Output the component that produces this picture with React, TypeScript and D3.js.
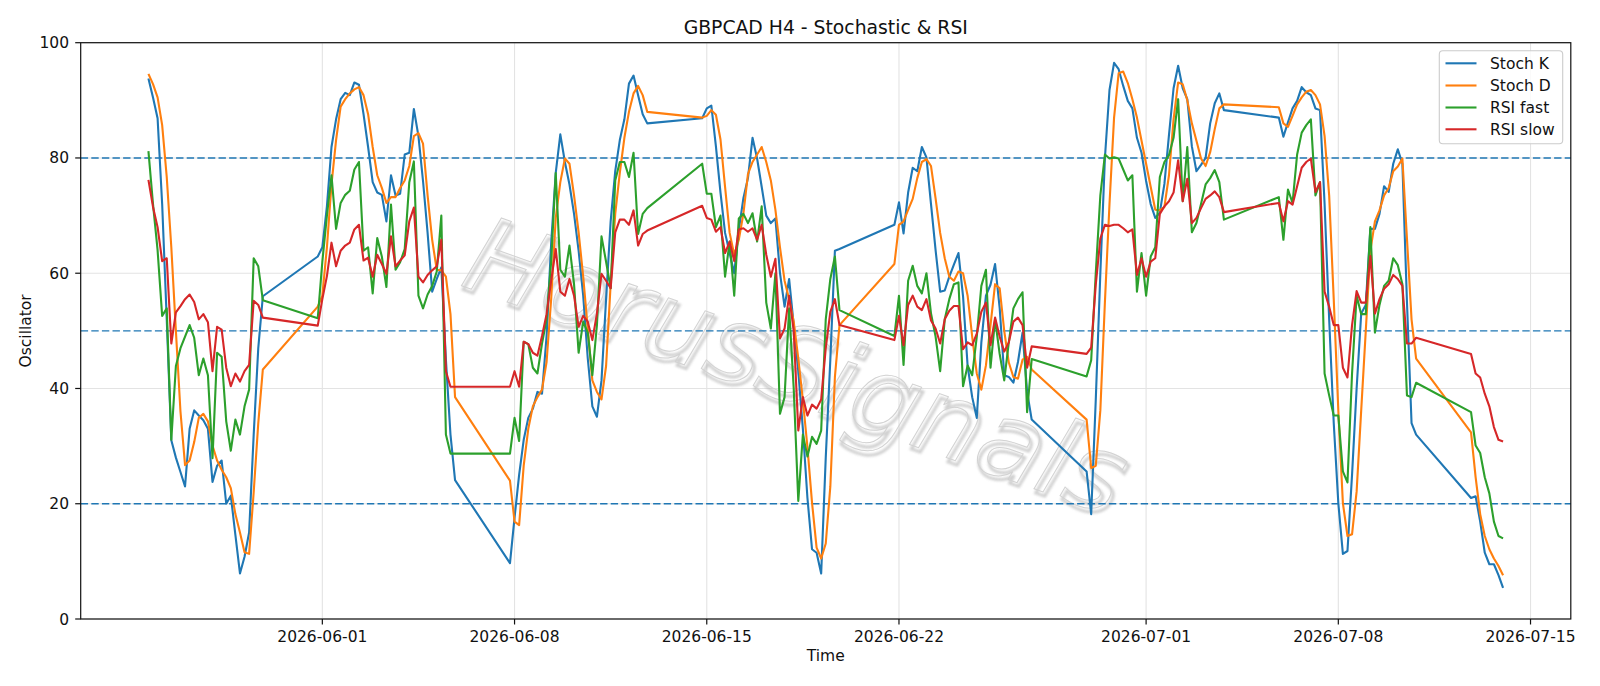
import React from "react";
import * as d3 from "d3";

// H4 sessions (UTC): each one runs Sunday 20:00 -> Friday 20:00, gaps are weekends
const sessionStarts = [
  "2026-05-25T16:00:00Z",
  "2026-05-31T20:00:00Z",
  "2026-06-07T20:00:00Z",
  "2026-06-14T20:00:00Z",
  "2026-06-21T20:00:00Z",
  "2026-06-28T20:00:00Z",
  "2026-07-05T20:00:00Z",
  "2026-07-12T20:00:00Z",
];
const sessionBars = [26, 31, 31, 31, 31, 31, 31, 8];

const stochK = [
  93.8, 90.5, 86.9, 72, 52, 31, 28, 25.5, 23, 33, 36.2, 35.3, 34.5, 33, 23.8, 26.6, 27.5, 20, 21.4, 14.6, 7.9, 10.8, 15, 32, 47, 56,
  62.9, 64.5, 71.6, 81.9, 86.7, 90.2, 91.3, 90.9, 93.1, 92.7, 87.6, 81.9, 75.8, 74.0, 73.6, 69.0, 77.0, 73.5, 73.8, 80.6, 80.9, 88.5, 83.8, 76, 67, 56.8, 59.0, 61, 45, 32, 24.1,
  9.7, 17.6, 25.0, 31.1, 34.9, 36.5, 39.4, 39.1, 49.1, 65.2, 77.4, 84.1, 79.3, 75.4, 70.3, 63.9, 56.1, 45.2, 36.9, 35.1, 41.4, 55.5, 69.0, 77.7, 83.1, 86.7, 92.9, 94.3, 90.9, 87.6, 86.0,
  86.9, 88.6, 89.1, 82, 74, 67, 63.5, 60.0, 67.5, 73, 76.5, 83.5, 79.9, 75, 70, 68.7, 69.5, 60, 54.2, 59.0, 51, 43, 33, 21, 12.1, 11.5, 7.9, 28, 45, 63.9, 64.2,
  68.4, 72.3, 66.9, 74, 78.3, 77.7, 81.9, 80.1, 72, 64, 56.8, 57.0, 59.4, 61.5, 63.5, 56, 43.9, 38.5, 34.9, 48, 56.1, 58, 61.6, 54, 42.3, 42.0, 41.0, 44.6, 49.7, 39.4, 34.6,
  25.6, 18.2, 38, 60, 80, 91.8, 96.5, 95.4, 92.5, 89.9, 88.6, 83.5, 80.9, 76, 72, 69.6, 70.5, 75.5, 84, 92.1, 96.0, 92.1, 90.2, 82, 77.7, 78.8, 80, 86, 89.5, 91.2, 88.3,
  87.0, 83.7, 86.2, 88.6, 89.9, 92.3, 91.4, 90.9, 88.6, 88.3, 72, 52, 34, 20.1, 11.3, 11.8, 25, 40, 53, 54.5, 67.7, 67.7, 70.3, 75.1, 74.1, 79.0, 81.5, 79, 55, 34, 32.0,
  21.0, 21.3, 16.9, 11.5, 9.5, 9.5, 7.6, 5.4,
];

const stochD = [
  94.6, 92.8, 90.5, 85.7, 76.7, 64.5, 50, 36, 26.7, 27.5, 30.7, 34.9, 35.6, 34.3, 30.1, 27.5, 25.9, 24.6, 22.7, 18.2, 15.0, 11.6, 11.3, 22, 34, 43.3,
  54.2, 56.1, 64.5, 75.4, 83.1, 88.9, 90.2, 91.2, 91.9, 92.3, 90.9, 87.6, 81.9, 77.0, 74.8, 72.2, 73.2, 73.2, 74.8, 76.1, 78.6, 83.8, 84.3, 82.5, 73.5, 65.8, 60.6, 60.5, 59.4, 52.9, 38.5,
  24.0, 16.9, 16.3, 26.6, 33.0, 36.9, 38.5, 39.8, 44.6, 55.5, 69.6, 75.8, 79.9, 79.0, 73.5, 67.1, 59.4, 50.4, 41.4, 39.4, 38.1, 43.9, 58.1, 70.3, 77.4, 83.5, 88.0, 91.2, 92.5, 90.9, 88.0,
  87.0, 87.3, 88.3, 87.5, 83.2, 75, 67, 63.2, 65.8, 70.3, 77.2, 79.3, 80.6, 81.9, 79.3, 76.1, 71, 64.5, 58.7, 55.5, 51.6, 45.2, 38, 29.8, 20.2, 12.4, 10.5, 13.1, 23, 42, 51,
  61.6, 68.4, 69.0, 71, 72.9, 76.5, 79.3, 79.8, 78.6, 73, 67, 62.6, 59.4, 58.7, 60.3, 60, 56.1, 49, 42.6, 39.8, 44, 51, 58.1, 57.4, 50, 44.5, 42.0, 41.7, 45, 45.5, 43.3,
  34.6, 26.2, 26.6, 36.2, 55, 72, 87, 94.7, 95.0, 93, 90.2, 87, 83, 79, 75, 71, 70.9, 71.5, 77, 86.7, 93.1, 92.8, 90, 86, 83, 79.9, 78.6, 81, 85, 88.6, 89.3,
  88.8, 86.0, 85.4, 87.3, 89.3, 90.5, 91.5, 91.8, 90.9, 89.3, 83.8, 73.5, 55.5, 36.2, 20.1, 14.4, 14.7, 22.1, 36.2, 50, 63.9, 69.0, 70.9, 73.5, 74.8, 77.7, 78.5, 79.9, 66, 52, 45.2,
  32.4, 24.6, 18.2, 14.4, 12.1, 10.5, 9.2, 7.6,
];

const rsiFast = [
  81.2, 72, 64, 52.6, 53.9, 31.1, 43.9, 47, 49, 51, 48.8, 42.3, 45.2, 42.3, 27.9, 46.2, 45.5, 34.3, 29.2, 34.6, 32.0, 36.9, 39.8, 62.6, 61.2, 55.3,
  52.2, 62, 70, 77.0, 67.7, 72.2, 73.6, 74.3, 78.0, 79.3, 63.9, 64.5, 56.5, 66.1, 62.9, 57.6, 71.9, 60.6, 61.9, 64.2, 75.8, 79.4, 56.1, 53.9, 56.3, 57.8, 60.3, 70.0, 32.0, 28.7, 28.7,
  28.7, 34.9, 30.9, 48.1, 47.7, 43.6, 42.6, 47.8, 52, 62, 77.4, 60.6, 59.4, 64.8, 58.1, 46.2, 51.6, 49.7, 42.3, 51, 66.4, 62, 57.4, 76.1, 79.3, 79.3, 76.7, 80.9, 66.8, 70.3, 71.3,
  79.0, 73.8, 73.8, 68, 70.0, 59.4, 65.5, 56.1, 69.5, 70.3, 68.7, 70.4, 65.5, 71.6, 54.9, 50.4, 60, 35.6, 38.5, 53.9, 40, 20.5, 32, 28.2, 31.6, 30.4, 32.7, 52, 59.0, 62.9, 53.6,
  49.1, 56.1, 44.1, 58.7, 61.3, 57.8, 56.5, 60.0, 53, 49, 43.0, 52, 55.5, 58.1, 58.4, 40.4, 44.0, 42.3, 49, 57.8, 60.6, 43.6, 52, 46, 41.4, 48, 53.9, 55.5, 56.7, 35.9, 45.1,
  42.1, 44.9, 60, 73.5, 80.6, 79.9, 80.1, 79.9, 78, 76.1, 77.0, 56.8, 63.5, 56.1, 62.9, 64.5, 76.7, 79.3, 80.5, 83.5, 90.2, 72.5, 81.9, 67.1, 68.7, 72, 75.4, 76.5, 77.9, 75.8, 69.3,
  73.2, 65.8, 74.5, 72.2, 80.6, 84.4, 85.7, 86.7, 73.5, 75.8, 42.6, 38.8, 35.3, 35.3, 25.6, 23.7, 42.6, 56.1, 52.9, 52.9, 68.0, 49.7, 54.5, 57.8, 58.7, 62.6, 61.4, 58.1, 38.8, 38.5, 41.0,
  35.9, 30.1, 28.8, 24.6, 21.8, 16.9, 14.4, 14.0,
];

const rsiSlow = [
  76.2, 71.5, 68, 62.1, 62.6, 47.8, 53.2, 54.3, 55.5, 56.3, 55.0, 52.0, 52.9, 51.5, 43.0, 50.7, 50.2, 43.6, 40.4, 42.6, 41.2, 43.0, 44.1, 55.2, 54.5, 52.3,
  50.9, 55.5, 59.5, 65.3, 61.2, 63.9, 64.8, 65.3, 67.6, 68.4, 62.2, 62.7, 59.4, 63.2, 61.6, 59.9, 66.4, 61.2, 62.2, 63.1, 69.0, 71.4, 59.4, 58.4, 59.7, 60.5, 61.2, 65.8, 43.0, 40.3, 40.3,
  40.3, 43.0, 40.3, 48.1, 47.7, 46.2, 45.7, 49.1, 52.9, 58.7, 64.2, 56.8, 56.1, 59.0, 56.1, 50.7, 52.6, 51.6, 48.4, 53, 59.9, 58.7, 57.4, 67.1, 69.3, 69.3, 68.4, 70.9, 64.8, 66.8, 67.4,
  71.7, 69.6, 69.3, 67.2, 68.0, 63.5, 65.5, 62.1, 67.6, 67.8, 67.2, 67.8, 65.8, 68.4, 63.2, 59.4, 62.5, 48.7, 50.4, 56.1, 50, 32.7, 38.5, 35.3, 37.2, 36.5, 38.1, 47, 53.3, 55.5, 51.0,
  48.4, 52.6, 47.5, 54.5, 56.1, 54.2, 53.6, 55.5, 51.8, 50.4, 47.8, 52, 53.5, 54.3, 54.3, 46.8, 48, 47.5, 49.5, 53.3, 54.9, 47.5, 52.3, 49, 46.4, 48, 51.6, 52.3, 51.0, 43.6, 47.3,
  46.0, 47.1, 58, 66, 68.4, 68.2, 68.4, 68.4, 67.8, 67.1, 67.6, 59.7, 62.6, 59.4, 62.0, 62.6, 70.3, 71.6, 72.5, 74, 79.6, 72.5, 76.4, 68.7, 69.6, 71.3, 72.9, 73.5, 74.2, 73.2, 70.6,
  72.2, 69.0, 72.5, 71.9, 75.1, 78.3, 79.3, 79.9, 74.1, 75.8, 56.8, 54.2, 51.0, 51.0, 43.6, 41.9, 51.0, 56.9, 54.9, 54.9, 63.0, 53.0, 55.5, 57.3, 58.1, 59.7, 59.0, 57.8, 47.8, 47.8, 48.8,
  46.0, 42.6, 41.9, 39.1, 36.9, 33.3, 31.1, 30.8,
];

const seriesNames = ["Stoch K", "Stoch D", "RSI fast", "RSI slow"];
const seriesColors = ["#1f77b4", "#ff7f0e", "#2ca02c", "#d62728"];
const xTickDates = ["2026-06-01", "2026-06-08", "2026-06-15", "2026-06-22", "2026-07-01", "2026-07-08", "2026-07-15"];
const yTickValues = [0, 20, 40, 60, 80, 100];
const levelLines = [20, 50, 80];

const FONT = "DejaVu Sans, Verdana, sans-serif";
const W = 1600;
const H = 686;
const left = 80.7;
const right = 1570.8;
const top = 42.7;
const bottom = 619;

const H4 = 4 * 3600 * 1000;
const times: Date[] = [];
sessionStarts.forEach((s, i) => {
  const t0 = new Date(s).getTime();
  for (let k = 0; k < sessionBars[i]; k++) times.push(new Date(t0 + k * H4));
});

export default function App() {
  const t0 = times[0].getTime();
  const t1 = times[times.length - 1].getTime();
  const pad = (t1 - t0) * 0.05;
  const x = d3.scaleUtc().domain([new Date(t0 - pad), new Date(t1 + pad)]).range([left, right]);
  const y = d3.scaleLinear().domain([0, 100]).range([bottom, top]);

  const allSeries = [stochK, stochD, rsiFast, rsiSlow];
  const line = d3
    .line<number>()
    .x((_, i) => x(times[i]))
    .y((d) => y(d));

  const cx = (left + right) / 2;
  const cy = (top + bottom) / 2;
  const legendRows = [63.3, 85.5, 107.5, 129.3];

  return (
    <div style={{ position: "absolute", left: 0, top: 0 }}>
      <svg width={W} height={H} style={{ display: "block", background: "#fff" }}>
        <defs>
          <filter id="wmShadow" x="-10%" y="-20%" width="120%" height="140%">
            <feGaussianBlur stdDeviation={1.3} />
          </filter>
        </defs>
        <rect x={0} y={0} width={W} height={H} fill="#fff" />
        {/* grid */}
        {xTickDates.map((d) => (
          <line key={d} x1={x(new Date(d + "T00:00:00Z"))} x2={x(new Date(d + "T00:00:00Z"))} y1={top} y2={bottom} stroke="#e3e3e3" strokeWidth={1.1} />
        ))}
        {yTickValues.map((v) => (
          <line key={v} x1={left} x2={right} y1={y(v)} y2={y(v)} stroke="#e3e3e3" strokeWidth={1.1} />
        ))}

        {/* watermark */}
        <g transform={`translate(${cx - 29},${cy + 35}) rotate(19.5)`} fontFamily={FONT} fontSize={106} fontStyle="oblique" textAnchor="middle" dominantBaseline="central">
          <text x={3} y={3.5} fill="none" stroke="#b0b0b0" strokeWidth={3} opacity={0.6} filter="url(#wmShadow)">HorusSignals</text>
          <text x={0} y={0} fill="none" stroke="#d2d2d2" strokeWidth={1}>HorusSignals</text>
        </g>

        {/* level lines */}
        {levelLines.map((v) => (
          <line key={v} x1={left} x2={right} y1={y(v)} y2={y(v)} stroke="#1f77b4" strokeWidth={1.4} strokeDasharray="7.4,3.2" />
        ))}

        {allSeries.map((s, i) => (
          <path key={seriesNames[i]} d={line(s) || ""} fill="none" stroke={seriesColors[i]} strokeWidth={2.1} strokeLinejoin="round" />
        ))}

        {/* axes frame */}
        <rect x={left} y={top} width={right - left} height={bottom - top} fill="none" stroke="#111" strokeWidth={1.2} />

        {/* y ticks */}
        {yTickValues.map((v) => (
          <g key={v}>
            <line x1={left - 5.5} x2={left} y1={y(v)} y2={y(v)} stroke="#111" strokeWidth={1.2} />
            <text x={69} y={y(v) + 5.5} textAnchor="end" fontFamily={FONT} fontSize={15.5} fill="#111">{v}</text>
          </g>
        ))}
        {/* x ticks */}
        {xTickDates.map((d) => {
          const px = x(new Date(d + "T00:00:00Z"));
          return (
            <g key={d}>
              <line x1={px} x2={px} y1={bottom} y2={bottom + 5.5} stroke="#111" strokeWidth={1.2} />
              <text x={px} y={642} textAnchor="middle" fontFamily={FONT} fontSize={15.5} fill="#111">{d}</text>
            </g>
          );
        })}

        <text x={cx} y={34} textAnchor="middle" fontFamily={FONT} fontSize={18.8} fill="#111">GBPCAD H4 - Stochastic &amp; RSI</text>
        <text x={cx} y={661} textAnchor="middle" fontFamily={FONT} fontSize={15.5} fill="#111">Time</text>
        <text transform={`translate(31,${cy}) rotate(-90)`} textAnchor="middle" fontFamily={FONT} fontSize={15.5} fill="#111">Oscillator</text>

        {/* legend */}
        <rect x={1439.3} y={50.7} width={123.4} height={93} rx={3.5} fill="#fff" fillOpacity={0.8} stroke="#cccccc" strokeWidth={1.1} />
        {seriesNames.map((n, i) => (
          <g key={n}>
            <line x1={1445.5} x2={1476.5} y1={legendRows[i]} y2={legendRows[i]} stroke={seriesColors[i]} strokeWidth={2.1} />
            <text x={1490} y={legendRows[i] + 5.5} fontFamily={FONT} fontSize={15.5} fill="#111">{n}</text>
          </g>
        ))}
      </svg>
    </div>
  );
}
